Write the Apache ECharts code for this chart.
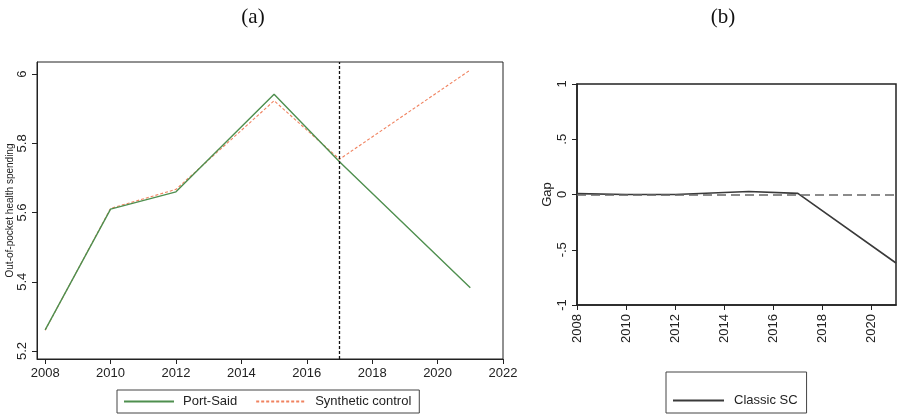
<!DOCTYPE html>
<html>
<head>
<meta charset="utf-8">
<script src="https://cdn.jsdelivr.net/npm/echarts@6/dist/echarts.min.js"></script>
<style>
  html, body { margin: 0; padding: 0; background: #fff; }
  #main { width: 898px; height: 416px; }
</style>
</head>
<body>
<div id="main"></div>
<script>
// data
var years = [2008, 2010, 2012, 2015, 2017, 2021];
var portSaid = [5.261, 5.610, 5.660, 5.942, 5.747, 5.383];
var synthetic = [5.260, 5.612, 5.667, 5.923, 5.754, 6.012];
var gap = [0.008, 0.0, 0.0, 0.027, 0.01, -0.62];
var treatYear = 2017;

var leftXTicks = [2008, 2010, 2012, 2014, 2016, 2018, 2020, 2022];
var leftYTicks = [5.2, 5.4, 5.6, 5.8, 6];
var rightXTicks = [2008, 2010, 2012, 2014, 2016, 2018, 2020];

function pairs(xs, ys) {
    return xs.map(function (x, i) { return [x, ys[i]]; });
}
function plain(v) { return String(v); }

var labelFont = { fontFamily: 'Liberation Sans', fontSize: 13, color: '#222' };

var myChart = echarts.init(document.getElementById('main'));
var option = {
    animation: false,
    backgroundColor: '#fff',
    title: [
        { text: '(a)', left: 248, top: 2, textAlign: 'center',
          textStyle: { fontFamily: 'Liberation Serif', fontSize: 21, fontWeight: 'normal', color: '#111' } },
        { text: '(b)', left: 718, top: 2, textAlign: 'center',
          textStyle: { fontFamily: 'Liberation Serif', fontSize: 21, fontWeight: 'normal', color: '#111' } }
    ],
    legend: [
        {
            data: ['Port-Said', 'Synthetic control'],
            left: 117, top: 390,
            itemWidth: 50, itemHeight: 10, itemGap: 18,
            padding: [5, 8, 5, 6],
            borderColor: '#444', borderWidth: 1,
            itemStyle: { opacity: 0 },
            textStyle: { fontFamily: 'Liberation Sans', fontSize: 13, color: '#222', padding: [0, 0, 0, 4] }
        },
        {
            data: ['Classic SC'],
            left: 666, top: 372,
            itemWidth: 51, itemHeight: 10,
            padding: [22, 9, 6, 6],
            borderColor: '#444', borderWidth: 1,
            itemStyle: { opacity: 0 },
            textStyle: { fontFamily: 'Liberation Sans', fontSize: 13, color: '#222', padding: [0, 0, 0, 5] }
        }
    ],
    grid: [
        { left: 37, right: 395, top: 62, bottom: 57, show: true, borderColor: '#222', borderWidth: 1,
          outerBoundsMode: 'none', containLabel: false },
        { left: 577, right: 2, top: 84, bottom: 111, show: true, borderColor: '#222', borderWidth: 1.5,
          outerBoundsMode: 'none', containLabel: false }
    ],
    xAxis: [
        {
            type: 'value', gridIndex: 0, min: 2007.75, max: 2022,
            splitLine: { show: false },
            axisLine: { onZero: false, lineStyle: { color: '#222' } },
            axisTick: { length: 5, customValues: leftXTicks, lineStyle: { color: '#222' } },
            axisLabel: Object.assign({ margin: 8, customValues: leftXTicks, formatter: plain }, labelFont)
        },
        {
            type: 'value', gridIndex: 1, min: 2008, max: 2021,
            splitLine: { show: false },
            axisLine: { onZero: false, lineStyle: { color: '#222', width: 1.5 } },
            axisTick: { length: 5, customValues: rightXTicks, lineStyle: { color: '#222' } },
            axisLabel: Object.assign({ margin: 9, rotate: 90, customValues: rightXTicks, formatter: plain }, labelFont)
        }
    ],
    yAxis: [
        {
            type: 'value', gridIndex: 0, min: 5.177, max: 6.035,
            name: 'Out-of-pocket health spending', nameLocation: 'middle', nameGap: 22,
            nameMoveOverlap: false,
            nameTextStyle: { fontFamily: 'Liberation Sans', fontSize: 10, color: '#222' },
            splitLine: { show: false },
            axisLine: { show: true, onZero: false, lineStyle: { color: '#222' } },
            axisTick: { show: true, length: 5, customValues: leftYTicks, lineStyle: { color: '#222' } },
            axisLabel: Object.assign({ margin: 8, rotate: 90, customValues: leftYTicks,
                formatter: function (v) { return String(Math.round(v * 10) / 10); } }, labelFont)
        },
        {
            type: 'value', gridIndex: 1, min: -1, max: 1, interval: 0.5,
            name: 'Gap', nameLocation: 'middle', nameGap: 23,
            nameMoveOverlap: false,
            nameTextStyle: { fontFamily: 'Liberation Sans', fontSize: 13, color: '#222' },
            splitLine: { show: false },
            axisLine: { show: true, onZero: false, lineStyle: { color: '#222', width: 1.5 } },
            axisTick: { show: true, length: 5, lineStyle: { color: '#222' } },
            axisLabel: Object.assign({ margin: 8, rotate: 90,
                formatter: function (v) {
                    if (v === 0) return '0';
                    return String(v).replace('0.', '.');
                } }, labelFont)
        }
    ],
    series: [
        {
            name: 'Port-Said', type: 'line', xAxisIndex: 0, yAxisIndex: 0,
            data: pairs(years, portSaid), symbol: 'none', z: 3,
            itemStyle: { color: '#4f8f4f' },
            lineStyle: { color: '#4f8f4f', width: 1.4 },
            markLine: {
                silent: true, symbol: 'none', label: { show: false },
                lineStyle: { color: '#111', type: [3, 2], width: 1.3 },
                data: [{ xAxis: treatYear }]
            }
        },
        {
            name: 'Synthetic control', type: 'line', xAxisIndex: 0, yAxisIndex: 0,
            data: pairs(years, synthetic), symbol: 'none', z: 2,
            itemStyle: { color: '#f0825f' },
            lineStyle: { color: '#f0825f', width: 1.1, type: [3, 2] }
        },
        {
            name: 'Classic SC', type: 'line', xAxisIndex: 1, yAxisIndex: 1,
            data: pairs(years, gap), symbol: 'none', z: 3,
            itemStyle: { color: '#333' },
            lineStyle: { color: '#3a3a3a', width: 1.6 },
            markLine: {
                silent: true, symbol: 'none', label: { show: false },
                lineStyle: { color: '#666', type: [9, 5], width: 1.5 },
                data: [{ yAxis: 0 }]
            }
        }
    ]
};
myChart.setOption(option);
</script>
</body>
</html>
